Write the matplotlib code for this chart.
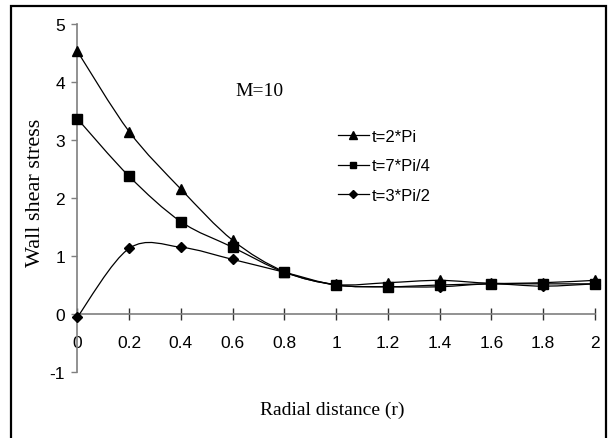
"""Wall shear stress against radial distance for M=10 at three time levels."""

import matplotlib

matplotlib.use("Agg")
import matplotlib.pyplot as plt
import numpy as np
from matplotlib.patches import PathPatch, Rectangle
from matplotlib.path import Path

# Data
r = [0, 0.2, 0.4, 0.6, 0.8, 1.0, 1.2, 1.4, 1.6, 1.8, 2.0]
stress_2pi = [4.52, 3.14, 2.15, 1.27, 0.73, 0.51, 0.54, 0.58, 0.53, 0.54, 0.58]
stress_7pi4 = [3.36, 2.37, 1.59, 1.15, 0.72, 0.50, 0.47, 0.50, 0.52, 0.52, 0.52]
stress_3pi2 = [-0.05, 1.13, 1.15, 0.94, 0.72, 0.50, 0.47, 0.47, 0.52, 0.48, 0.52]

labels = ["t=2*Pi", "t=7*Pi/4", "t=3*Pi/2"]
markers = ["^", "s", "D"]
marker_sizes = [7, 6.5, 5.5]

sans = "Liberation Sans"
serif = "Liberation Serif"


def smooth_path(x, y):
  """Excel-style smoothed line as cubic Bezier segments through the points."""
  pts = np.column_stack([x, y]).astype(float)
  n = len(pts)
  verts = [pts[0]]
  codes = [Path.MOVETO]
  for i in range(n - 1):
    p_prev = pts[i - 1] if i > 0 else pts[i]
    p_next = pts[i + 2] if i + 2 < n else pts[i + 1]
    c1 = pts[i] + (pts[i + 1] - p_prev) / 6.0
    c2 = pts[i + 1] - (p_next - pts[i]) / 6.0
    verts += [c1, c2, pts[i + 1]]
    codes += [Path.CURVE4] * 3
  return Path(verts, codes)


fig = plt.figure(figsize=(6.10, 4.39), dpi=100)
ax = fig.add_axes([0.127, 0.150, 0.848, 0.794])

handles = []
for ys, lab, mk, ms in zip(
  [stress_2pi, stress_7pi4, stress_3pi2], labels, markers, marker_sizes
):
  patch = PathPatch(
    smooth_path(r, ys), fill=False, edgecolor="black", linewidth=0.9,
    transform=ax.transData, clip_on=False, zorder=3,
  )
  ax.add_patch(patch)
  ax.plot(r, ys, linestyle="none", marker=mk, markersize=ms, color="black",
          clip_on=False, zorder=4)
  (h,) = ax.plot([], [], color="black", linewidth=0.9, marker=mk,
                 markersize=ms - 1.5, label=lab)
  handles.append(h)

ax.set_xlim(0, 2)
ax.set_ylim(-1, 5)
ax.set_xticks(r)
ax.set_xticklabels(["0", "0.2", "0.4", "0.6", "0.8", "1", "1.2", "1.4", "1.6", "1.8", "2"])
ax.set_yticks([-1, 0, 1, 2, 3, 4, 5])
ax.set_yticklabels(["-1", "0", "1", "2", "3", "4", "5"])

for side in ["top", "right"]:
  ax.spines[side].set_visible(False)
ax.spines["left"].set_position(("data", 0))
ax.spines["bottom"].set_position(("data", 0))
for side in ["left", "bottom"]:
  ax.spines[side].set_color("#7f7f7f")
  ax.spines[side].set_linewidth(1.2)

ax.tick_params(axis="x", direction="inout", length=8.5, width=1.0, color="#333333",
               pad=11, labelsize=12.5)
ax.tick_params(axis="y", direction="out", length=4, width=1.0, color="#7f7f7f",
               pad=5, labelsize=12.5)
for lbl in ax.get_xticklabels() + ax.get_yticklabels():
  lbl.set_fontfamily(sans)

ax.patch.set_visible(False)

ax.text(0.61, 3.84, "M=10", fontsize=14, fontfamily=serif, va="center", ha="left")

leg = ax.legend(
  handles=handles, loc="upper left", bbox_to_anchor=(0.503, 0.697),
  frameon=False, prop={"family": sans, "size": 12}, handlelength=1.9,
  handletextpad=0.15, labelspacing=0.85, borderaxespad=0, borderpad=0,
)

fig.text(0.545, 0.066, "Radial distance (r)", fontsize=14, fontfamily=serif,
         ha="center", va="center")
fig.text(0.058, 0.56, "Wall shear stress", fontsize=16, fontfamily=serif,
         ha="center", va="center", rotation=90)

# outer frame of the chart area
frame = Rectangle((0.018, -0.05), 0.975, 1.034, transform=fig.transFigure,
                  fill=False, edgecolor="black", linewidth=1.6)
fig.patches.append(frame)

fig.savefig("out.png", dpi=100)
plt.close("all")
